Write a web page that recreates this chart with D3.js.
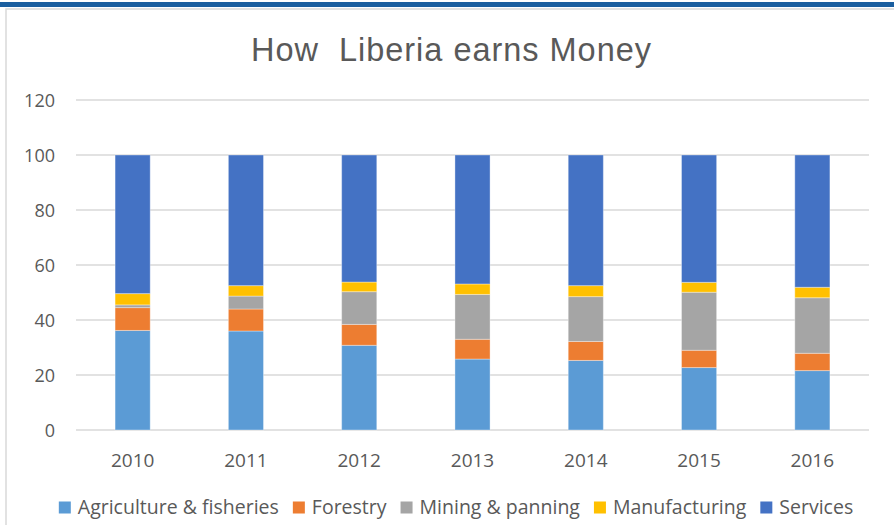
<!DOCTYPE html>
<html>
<head>
<meta charset="utf-8">
<script src="https://cdn.jsdelivr.net/npm/d3@7"></script>
<style>
  html, body { margin: 0; padding: 0; background: #fff; }
  svg { display: block; }
</style>
</head>
<body>
<svg id="chart" width="894" height="525"></svg>
<script>
// ---- data ----
const years = ["2010", "2011", "2012", "2013", "2014", "2015", "2016"];
const seriesNames = ["Agriculture & fisheries", "Forestry", "Mining & panning", "Manufacturing", "Services"];
const agriculture = [36.2, 36.0, 30.8, 25.8, 25.3, 22.7, 21.6];
const forestry = [8.3, 8.0, 7.6, 7.2, 6.9, 6.3, 6.3];
const mining = [1.0, 4.7, 11.9, 16.3, 16.3, 21.1, 20.2];
const manufacturing = [4.1, 3.8, 3.5, 3.8, 4.0, 3.6, 3.8];
const services = [50.4, 47.5, 46.2, 46.9, 47.5, 46.3, 48.1];
const yTicks = [0, 20, 40, 60, 80, 100, 120];
const titleText = "How  Liberia earns Money";

const colors = ["#5b9bd5", "#ed7d31", "#a5a5a5", "#ffc000", "#4472c4"];
const valueArrays = [agriculture, forestry, mining, manufacturing, services];

const table = years.map((y, i) => {
  const row = { year: y };
  seriesNames.forEach((s, k) => { row[s] = valueArrays[k][i]; });
  return row;
});

const svg = d3.select("#chart");

// frame decorations
svg.append("rect").attr("x", 0).attr("y", 2).attr("width", 894).attr("height", 5).attr("fill", "#1a5e9f");
svg.append("rect").attr("x", 6).attr("y", 9).attr("width", 900).attr("height", 600)
  .attr("fill", "none").attr("stroke", "#d9d9d9").attr("stroke-width", 1.5);

// title
svg.append("text")
  .attr("x", 451).attr("y", 61)
  .attr("text-anchor", "middle")
  .attr("font-family", "Liberation Sans, Arial, sans-serif")
  .attr("font-size", 32.5)
  .attr("fill", "#595959")
  .attr("textLength", 400)
  .attr("lengthAdjust", "spacing")
  .style("white-space", "pre")
  .text(titleText);

const x = d3.scaleBand().domain(years).range([76, 869]).paddingInner(0.69).paddingOuter(0.345);
const y = d3.scaleLinear().domain([0, 120]).range([430, 100]);

// gridlines
svg.append("g").selectAll("line").data(yTicks).join("line")
  .attr("x1", 76).attr("x2", 869)
  .attr("y1", d => y(d)).attr("y2", d => y(d))
  .attr("stroke", "#d9d9d9").attr("stroke-width", 1.3);

// y labels
svg.append("g").selectAll("text").data(yTicks).join("text")
  .attr("x", 55).attr("y", d => y(d) + 6.5)
  .attr("text-anchor", "end")
  .attr("font-family", "Open Sans, sans-serif")
  .attr("font-size", 18)
  .attr("fill", "#595959")
  .text(d => d);

// x labels
svg.append("g").selectAll("text").data(years).join("text")
  .attr("x", d => x(d) + x.bandwidth() / 2).attr("y", 467)
  .attr("text-anchor", "middle")
  .attr("font-family", "Open Sans, sans-serif")
  .attr("font-size", 19)
  .attr("fill", "#595959")
  .text(d => d);

// stacked bars
const stacked = d3.stack().keys(seriesNames)(table);
const color = d3.scaleOrdinal().domain(seriesNames).range(colors);
svg.append("g").selectAll("g").data(stacked).join("g")
  .attr("fill", d => color(d.key))
  .selectAll("rect").data(d => d).join("rect")
  .attr("x", d => x(d.data.year))
  .attr("width", x.bandwidth())
  .attr("y", d => y(d[1]))
  .attr("height", d => y(d[0]) - y(d[1]))
  .attr("stroke", "#ffffff").attr("stroke-opacity", 0.35).attr("stroke-width", 1);

// legend
const legend = svg.append("g");
let cx = 0;
const items = legend.selectAll("g").data(seriesNames).join("g");
items.append("rect").attr("x", 0).attr("y", -12.5).attr("width", 12).attr("height", 12)
  .attr("fill", d => color(d));
items.append("text").attr("x", 19).attr("y", 0)
  .attr("font-family", "Open Sans, sans-serif")
  .attr("font-size", 19.5)
  .attr("fill", "#595959")
  .text(d => d);
items.each(function() {
  const g = d3.select(this);
  g.attr("transform", `translate(${cx},0)`);
  const w = g.select("text").node().getComputedTextLength();
  cx += 19 + w + 14;
});
const totalW = cx - 14;
legend.attr("transform", `translate(${456 - totalW / 2},514)`);
</script>
</body>
</html>
